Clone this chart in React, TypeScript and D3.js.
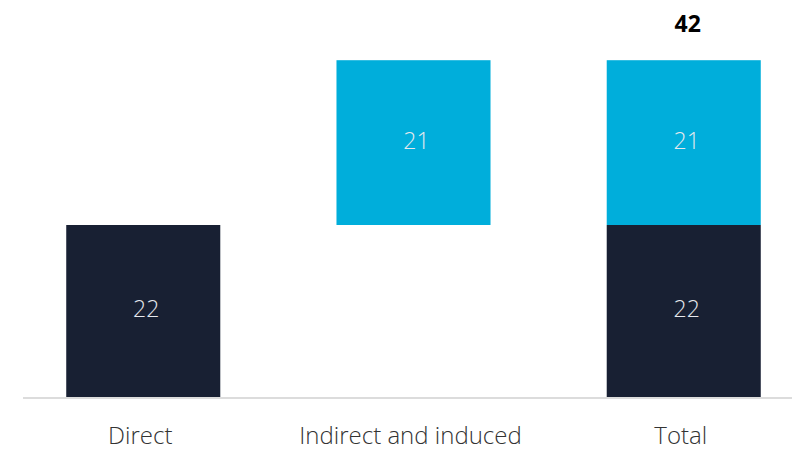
import React from "react";
import * as d3 from "d3";

const categories = ["Direct", "Indirect and induced", "Total"];
const directValue = 21.5;
const indirectValue = 20.6;
const directLabel = "22";
const indirectLabel = "21";
const totalLabel = "42";

const W = 792;
const H = 450;
const DARK = "#182033";
const LIGHT = "#00aedb";
const FONT = "'Open Sans', sans-serif";

export default function App() {
  const x = d3.scaleBand<string>().domain(categories).range([23, 804]).paddingInner(0.43).paddingOuter(0.16);
  const y = d3.scaleLinear().domain([0, 44]).range([397, 45]);
  const bw = x.bandwidth();
  const total = directValue + indirectValue;

  const segs = [
    { cat: categories[0], y0: 0, y1: directValue, color: DARK, label: directLabel },
    { cat: categories[1], y0: directValue, y1: total, color: LIGHT, label: indirectLabel },
    { cat: categories[2], y0: 0, y1: directValue, color: DARK, label: directLabel },
    { cat: categories[2], y0: directValue, y1: total, color: LIGHT, label: indirectLabel },
  ];

  return (
    <svg width={W} height={H} style={{ position: "absolute", left: 0, top: 0, background: "#fff" }}>
      {segs.map((s, i) => (
        <g key={i}>
          <rect x={x(s.cat)} y={y(s.y1)} width={bw} height={y(s.y0) - y(s.y1)} fill={s.color} />
          <text
            x={(x(s.cat) as number) + bw / 2 + 3}
            y={(y(s.y0) + y(s.y1)) / 2 + 6}
            textAnchor="middle"
            fontFamily={FONT}
            fontWeight={300}
            fontSize={23}
            fill="#e6e9ee"
          >
            {s.label}
          </text>
        </g>
      ))}
      <line x1={23} x2={W} y1={398} y2={398} stroke="#dcdcdc" strokeWidth={2} />
      {categories.map((c) => (
        <text
          key={c}
          x={(x(c) as number) + bw / 2 - 3}
          y={444}
          textAnchor="middle"
          fontFamily={FONT}
          fontWeight={300}
          fontSize={24}
          fill="#333"
        >
          {c}
        </text>
      ))}
      <text
        x={(x(categories[2]) as number) + bw / 2 + 4}
        y={y(total) - 28}
        textAnchor="middle"
        fontFamily={FONT}
        fontWeight={700}
        fontSize={23}
        fill="#000"
      >
        {totalLabel}
      </text>
    </svg>
  );
}
